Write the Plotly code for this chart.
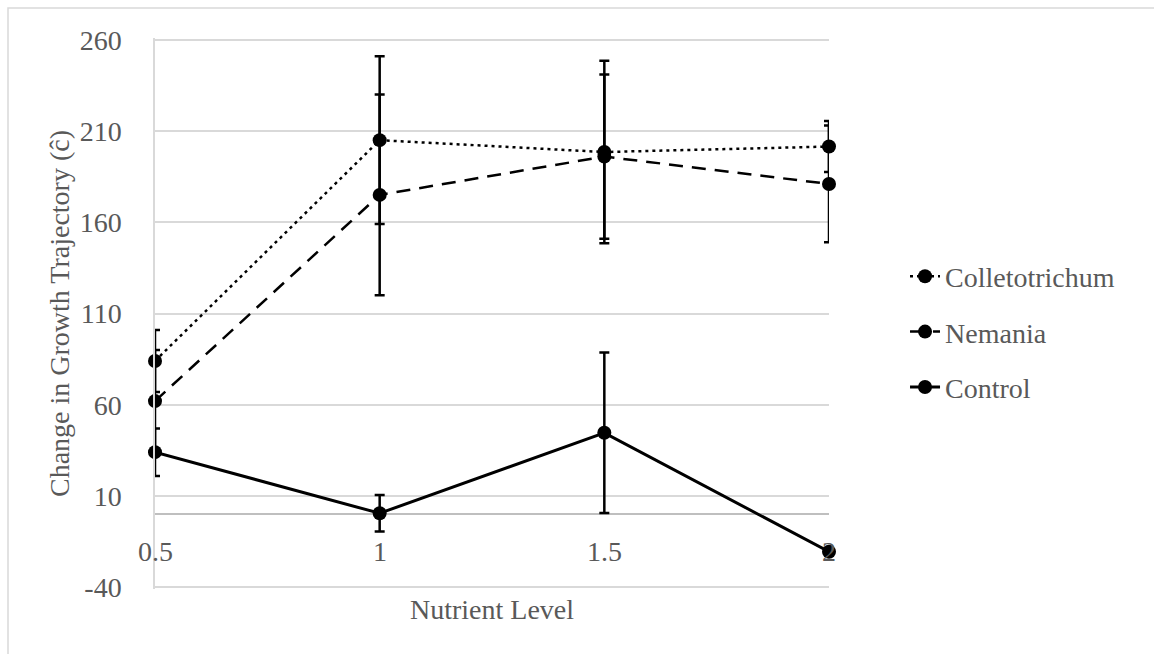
import plotly.graph_objects as go

nutrient = [0.5, 1, 1.5, 2]
tick_labels = ["0.5", "1", "1.5", "2"]

colletotrichum = [84, 205, 198.5, 201.5]
colletotrichum_err = [17, 46, 50, 14]
nemania = [62, 175, 196, 181]
nemania_err = [28, 55, 45, 32]
control = [34, 0.5, 44.6, -20.6]
control_err = [13, 10, 44, 0]

y_ticks = [-40, 10, 60, 110, 160, 210, 260]

FONT = "Liberation Serif"
GRAY = "#595959"

fig = go.Figure()

def add(name, y, err, dash, width):
    fig.add_trace(go.Scatter(
        x=nutrient, y=y, name=name, mode="lines+markers",
        line=dict(color="black", width=width, dash=dash),
        marker=dict(color="black", size=14, symbol="circle"),
        error_y=dict(type="data", array=err, visible=True, color="black",
                     thickness=2.5, width=5),
        cliponaxis=False, legendgroup=name,
    ))

add("Colletotrichum", colletotrichum, colletotrichum_err, "3px,4px", 2.5)
add("Nemania", nemania, nemania_err, "14px,9px", 2.5)
add("Control", control, control_err, "solid", 3)

annotations = []
for xv, lab in zip(nutrient, tick_labels):
    annotations.append(dict(x=xv, y=-20.6, xref="x", yref="y", text=lab,
                            showarrow=False, yanchor="middle", xanchor="center",
                            font=dict(family=FONT, size=28, color=GRAY)))

fig.update_layout(
    width=1154, height=654,
    margin=dict(l=155, r=325, t=38, b=65),
    paper_bgcolor="white", plot_bgcolor="white",
    font=dict(family=FONT, size=28, color=GRAY),
    showlegend=True,
    legend=dict(x=1.1128, y=0.4664, xanchor="left", yanchor="middle",
                font=dict(family=FONT, size=28, color=GRAY),
                traceorder="grouped", tracegroupgap=16,
                bgcolor="rgba(0,0,0,0)", itemwidth=30),
    annotations=annotations,
    shapes=[dict(type="rect", xref="paper", yref="paper",
                 x0=-0.2181, x1=1.6, y0=-0.2, y1=1.0544,
                 line=dict(color="#d9d9d9", width=1.5), layer="below")],
)

fig.update_xaxes(range=[0.5, 2], showgrid=False, zeroline=False,
                 showticklabels=False, ticks="", showline=False,
                 title=dict(text="Nutrient Level", standoff=10,
                            font=dict(family=FONT, size=28, color=GRAY)))

fig.update_yaxes(range=[-41, 261], tickvals=y_ticks,
                 ticktext=[str(v) for v in y_ticks],
                 showgrid=True, gridcolor="#d9d9d9", gridwidth=1.5,
                 zeroline=True, zerolinecolor="#bfbfbf", zerolinewidth=1.5,
                 showline=True, linecolor="#d9d9d9", linewidth=1.5,
                 ticks="outside", ticklen=26, tickcolor="rgba(0,0,0,0)",
                 tickfont=dict(family=FONT, size=28, color=GRAY),
                 title=dict(text="Change in Growth Trajectory (ĉ)", standoff=2,
                            font=dict(family=FONT, size=28, color=GRAY)))

fig.write_html("out.html")
